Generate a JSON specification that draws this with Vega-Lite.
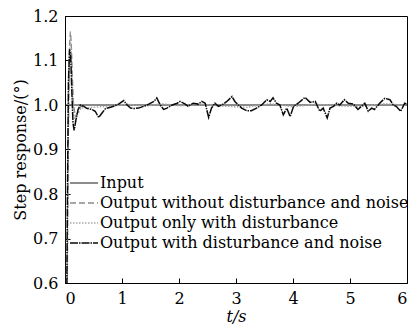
{
  "$schema": "https://vega.github.io/schema/vega-lite/v6.json",
  "autosize": {"type": "none"},
  "width": 342,
  "height": 267,
  "padding": {"left": 65, "top": 16, "right": 5, "bottom": 41},
  "background": "white",
  "config": {
    "view": {"stroke": "black", "strokeWidth": 1},
    "font": "DejaVu Serif",
    "axis": {
      "labelFont": "DejaVu Serif", "labelFontSize": 16, "labelColor": "black",
      "titleFont": "DejaVu Serif", "titleFontSize": 16, "titleFontWeight": "normal", "titleColor": "black",
      "domainColor": "black", "tickColor": "black", "tickSize": -5, "grid": false
    },
    "legend": {
      "labelFont": "DejaVu Serif", "labelFontSize": 16, "labelColor": "black",
      "symbolStrokeWidth": 1.3, "labelLimit": 0
    }
  },
  "data": {"values": [
    {"t": 0, "v": 0, "s": "Input"},
    {"t": 0, "v": 1, "s": "Input"},
    {"t": 6, "v": 1, "s": "Input"},

    {"t": 0, "v": 0, "s": "Output without disturbance and noise"},
    {"t": 0.02, "v": 0.25, "s": "Output without disturbance and noise"},
    {"t": 0.04, "v": 0.6, "s": "Output without disturbance and noise"},
    {"t": 0.06, "v": 0.95, "s": "Output without disturbance and noise"},
    {"t": 0.08, "v": 1.14, "s": "Output without disturbance and noise"},
    {"t": 0.095, "v": 1.165, "s": "Output without disturbance and noise"},
    {"t": 0.11, "v": 1.14, "s": "Output without disturbance and noise"},
    {"t": 0.13, "v": 1.06, "s": "Output without disturbance and noise"},
    {"t": 0.15, "v": 1.0, "s": "Output without disturbance and noise"},
    {"t": 0.18, "v": 0.975, "s": "Output without disturbance and noise"},
    {"t": 0.22, "v": 0.982, "s": "Output without disturbance and noise"},
    {"t": 0.27, "v": 0.995, "s": "Output without disturbance and noise"},
    {"t": 0.33, "v": 1.0, "s": "Output without disturbance and noise"},
    {"t": 6, "v": 1.0, "s": "Output without disturbance and noise"},

    {"t": 0, "v": 0, "s": "Output only with disturbance"},
    {"t": 0.02, "v": 0.27, "s": "Output only with disturbance"},
    {"t": 0.04, "v": 0.63, "s": "Output only with disturbance"},
    {"t": 0.06, "v": 0.97, "s": "Output only with disturbance"},
    {"t": 0.08, "v": 1.13, "s": "Output only with disturbance"},
    {"t": 0.095, "v": 1.15, "s": "Output only with disturbance"},
    {"t": 0.11, "v": 1.12, "s": "Output only with disturbance"},
    {"t": 0.13, "v": 1.04, "s": "Output only with disturbance"},
    {"t": 0.15, "v": 0.98, "s": "Output only with disturbance"},
    {"t": 0.18, "v": 0.965, "s": "Output only with disturbance"},
    {"t": 0.22, "v": 0.978, "s": "Output only with disturbance"},
    {"t": 0.28, "v": 0.993, "s": "Output only with disturbance"},
    {"t": 0.5, "v": 0.995, "s": "Output only with disturbance"},
    {"t": 0.8, "v": 0.997, "s": "Output only with disturbance"},
    {"t": 1.1, "v": 1.002, "s": "Output only with disturbance"},
    {"t": 1.4, "v": 0.997, "s": "Output only with disturbance"},
    {"t": 1.7, "v": 1.003, "s": "Output only with disturbance"},
    {"t": 2.0, "v": 0.998, "s": "Output only with disturbance"},
    {"t": 2.4, "v": 1.002, "s": "Output only with disturbance"},
    {"t": 2.8, "v": 0.997, "s": "Output only with disturbance"},
    {"t": 3.2, "v": 0.995, "s": "Output only with disturbance"},
    {"t": 3.6, "v": 1.003, "s": "Output only with disturbance"},
    {"t": 4.0, "v": 0.996, "s": "Output only with disturbance"},
    {"t": 4.4, "v": 1.002, "s": "Output only with disturbance"},
    {"t": 4.8, "v": 0.998, "s": "Output only with disturbance"},
    {"t": 5.2, "v": 0.996, "s": "Output only with disturbance"},
    {"t": 5.6, "v": 1.003, "s": "Output only with disturbance"},
    {"t": 6.0, "v": 0.999, "s": "Output only with disturbance"},

    {"t": 0, "v": 0, "s": "Output with disturbance and noise"},
    {"t": 0.02, "v": 0.3, "s": "Output with disturbance and noise"},
    {"t": 0.04, "v": 0.75, "s": "Output with disturbance and noise"},
    {"t": 0.06, "v": 1.05, "s": "Output with disturbance and noise"},
    {"t": 0.08, "v": 1.125, "s": "Output with disturbance and noise"},
    {"t": 0.1, "v": 1.11, "s": "Output with disturbance and noise"},
    {"t": 0.12, "v": 1.03, "s": "Output with disturbance and noise"},
    {"t": 0.14, "v": 0.96, "s": "Output with disturbance and noise"},
    {"t": 0.16, "v": 0.943, "s": "Output with disturbance and noise"},
    {"t": 0.19, "v": 0.965, "s": "Output with disturbance and noise"},
    {"t": 0.23, "v": 0.99, "s": "Output with disturbance and noise"},
    {"t": 0.27, "v": 1.0, "s": "Output with disturbance and noise"},
    {"t": 0.33, "v": 0.997, "s": "Output with disturbance and noise"},
    {"t": 0.39, "v": 0.992, "s": "Output with disturbance and noise"},
    {"t": 0.47, "v": 0.99, "s": "Output with disturbance and noise"},
    {"t": 0.53, "v": 0.986, "s": "Output with disturbance and noise"},
    {"t": 0.59, "v": 0.972, "s": "Output with disturbance and noise"},
    {"t": 0.65, "v": 0.982, "s": "Output with disturbance and noise"},
    {"t": 0.71, "v": 0.992, "s": "Output with disturbance and noise"},
    {"t": 0.8, "v": 0.995, "s": "Output with disturbance and noise"},
    {"t": 0.85, "v": 0.997, "s": "Output with disturbance and noise"},
    {"t": 0.94, "v": 1.002, "s": "Output with disturbance and noise"},
    {"t": 1.03, "v": 1.01, "s": "Output with disturbance and noise"},
    {"t": 1.09, "v": 1.0, "s": "Output with disturbance and noise"},
    {"t": 1.15, "v": 0.993, "s": "Output with disturbance and noise"},
    {"t": 1.21, "v": 0.992, "s": "Output with disturbance and noise"},
    {"t": 1.29, "v": 0.993, "s": "Output with disturbance and noise"},
    {"t": 1.38, "v": 0.997, "s": "Output with disturbance and noise"},
    {"t": 1.47, "v": 1.002, "s": "Output with disturbance and noise"},
    {"t": 1.56, "v": 1.008, "s": "Output with disturbance and noise"},
    {"t": 1.61, "v": 1.016, "s": "Output with disturbance and noise"},
    {"t": 1.67, "v": 1.0, "s": "Output with disturbance and noise"},
    {"t": 1.73, "v": 0.99, "s": "Output with disturbance and noise"},
    {"t": 1.79, "v": 0.993, "s": "Output with disturbance and noise"},
    {"t": 1.88, "v": 1.0, "s": "Output with disturbance and noise"},
    {"t": 1.97, "v": 1.004, "s": "Output with disturbance and noise"},
    {"t": 2.02, "v": 1.008, "s": "Output with disturbance and noise"},
    {"t": 2.11, "v": 1.002, "s": "Output with disturbance and noise"},
    {"t": 2.16, "v": 0.997, "s": "Output with disturbance and noise"},
    {"t": 2.25, "v": 1.004, "s": "Output with disturbance and noise"},
    {"t": 2.34, "v": 1.002, "s": "Output with disturbance and noise"},
    {"t": 2.4, "v": 1.008, "s": "Output with disturbance and noise"},
    {"t": 2.46, "v": 1.004, "s": "Output with disturbance and noise"},
    {"t": 2.52, "v": 0.972, "s": "Output with disturbance and noise"},
    {"t": 2.57, "v": 0.993, "s": "Output with disturbance and noise"},
    {"t": 2.63, "v": 1.004, "s": "Output with disturbance and noise"},
    {"t": 2.69, "v": 0.997, "s": "Output with disturbance and noise"},
    {"t": 2.75, "v": 1.0, "s": "Output with disturbance and noise"},
    {"t": 2.84, "v": 1.008, "s": "Output with disturbance and noise"},
    {"t": 2.93, "v": 1.019, "s": "Output with disturbance and noise"},
    {"t": 2.98, "v": 1.008, "s": "Output with disturbance and noise"},
    {"t": 3.04, "v": 1.0, "s": "Output with disturbance and noise"},
    {"t": 3.1, "v": 0.993, "s": "Output with disturbance and noise"},
    {"t": 3.19, "v": 0.987, "s": "Output with disturbance and noise"},
    {"t": 3.27, "v": 0.987, "s": "Output with disturbance and noise"},
    {"t": 3.36, "v": 0.993, "s": "Output with disturbance and noise"},
    {"t": 3.45, "v": 1.0, "s": "Output with disturbance and noise"},
    {"t": 3.54, "v": 1.012, "s": "Output with disturbance and noise"},
    {"t": 3.6, "v": 1.008, "s": "Output with disturbance and noise"},
    {"t": 3.65, "v": 1.016, "s": "Output with disturbance and noise"},
    {"t": 3.71, "v": 1.004, "s": "Output with disturbance and noise"},
    {"t": 3.77, "v": 1.0, "s": "Output with disturbance and noise"},
    {"t": 3.83, "v": 0.978, "s": "Output with disturbance and noise"},
    {"t": 3.89, "v": 0.993, "s": "Output with disturbance and noise"},
    {"t": 3.95, "v": 0.974, "s": "Output with disturbance and noise"},
    {"t": 4.01, "v": 0.997, "s": "Output with disturbance and noise"},
    {"t": 4.09, "v": 1.004, "s": "Output with disturbance and noise"},
    {"t": 4.21, "v": 1.017, "s": "Output with disturbance and noise"},
    {"t": 4.3, "v": 1.006, "s": "Output with disturbance and noise"},
    {"t": 4.39, "v": 1.008, "s": "Output with disturbance and noise"},
    {"t": 4.47, "v": 0.986, "s": "Output with disturbance and noise"},
    {"t": 4.53, "v": 0.993, "s": "Output with disturbance and noise"},
    {"t": 4.6, "v": 0.971, "s": "Output with disturbance and noise"},
    {"t": 4.65, "v": 0.993, "s": "Output with disturbance and noise"},
    {"t": 4.71, "v": 0.997, "s": "Output with disturbance and noise"},
    {"t": 4.77, "v": 1.004, "s": "Output with disturbance and noise"},
    {"t": 4.82, "v": 1.0, "s": "Output with disturbance and noise"},
    {"t": 4.9, "v": 1.012, "s": "Output with disturbance and noise"},
    {"t": 4.97, "v": 1.004, "s": "Output with disturbance and noise"},
    {"t": 5.06, "v": 1.002, "s": "Output with disturbance and noise"},
    {"t": 5.14, "v": 0.99, "s": "Output with disturbance and noise"},
    {"t": 5.2, "v": 0.997, "s": "Output with disturbance and noise"},
    {"t": 5.26, "v": 1.004, "s": "Output with disturbance and noise"},
    {"t": 5.32, "v": 0.986, "s": "Output with disturbance and noise"},
    {"t": 5.38, "v": 0.993, "s": "Output with disturbance and noise"},
    {"t": 5.43, "v": 0.99, "s": "Output with disturbance and noise"},
    {"t": 5.52, "v": 1.004, "s": "Output with disturbance and noise"},
    {"t": 5.61, "v": 1.015, "s": "Output with disturbance and noise"},
    {"t": 5.7, "v": 1.012, "s": "Output with disturbance and noise"},
    {"t": 5.76, "v": 1.0, "s": "Output with disturbance and noise"},
    {"t": 5.81, "v": 0.997, "s": "Output with disturbance and noise"},
    {"t": 5.89, "v": 0.986, "s": "Output with disturbance and noise"},
    {"t": 5.96, "v": 1.004, "s": "Output with disturbance and noise"},
    {"t": 6.0, "v": 1.002, "s": "Output with disturbance and noise"}
  ]},
  "mark": {"type": "line", "clip": true},
  "encoding": {
    "x": {
      "field": "t", "type": "quantitative",
      "scale": {"domain": [0, 6], "nice": false},
      "axis": {"title": "t/s", "titleFont": "DejaVu Serif", "titleFontStyle": "italic", "values": [0, 1, 2, 3, 4, 5, 6], "format": "d", "labelPadding": 12, "titlePadding": 2}
    },
    "y": {
      "field": "v", "type": "quantitative",
      "scale": {"domain": [0.6, 1.2], "nice": false, "zero": false},
      "axis": {"title": "Step response/(°)", "values": [0.6, 0.7, 0.8, 0.9, 1.0, 1.1, 1.2], "format": ".1f", "labelPadding": 12, "titlePadding": 4}
    },
    "color": {
      "field": "s", "type": "nominal",
      "scale": {
        "domain": ["Input", "Output without disturbance and noise", "Output only with disturbance", "Output with disturbance and noise"],
        "range": ["#1a1a1a", "#8a8a8a", "#a8a8a8", "#0a0a0a"]
      },
      "legend": {
        "title": null, "orient": "none", "legendX": 8, "legendY": 156,
        "symbolType": "M-1.4,0H1.4", "symbolSize": 400, "rowPadding": 1, "labelOffset": 5
      }
    },
    "strokeDash": {
      "field": "s", "type": "nominal",
      "scale": {
        "domain": ["Input", "Output without disturbance and noise", "Output only with disturbance", "Output with disturbance and noise"],
        "range": [[1, 0], [6, 3], [1.5, 1.5], [8, 1, 1.5, 1]]
      },
      "legend": {"title": null}
    },
    "strokeWidth": {
      "field": "s", "type": "nominal",
      "scale": {
        "domain": ["Input", "Output without disturbance and noise", "Output only with disturbance", "Output with disturbance and noise"],
        "range": [1.2, 1.5, 1.5, 3]
      },
      "legend": null
    }
  }
}
